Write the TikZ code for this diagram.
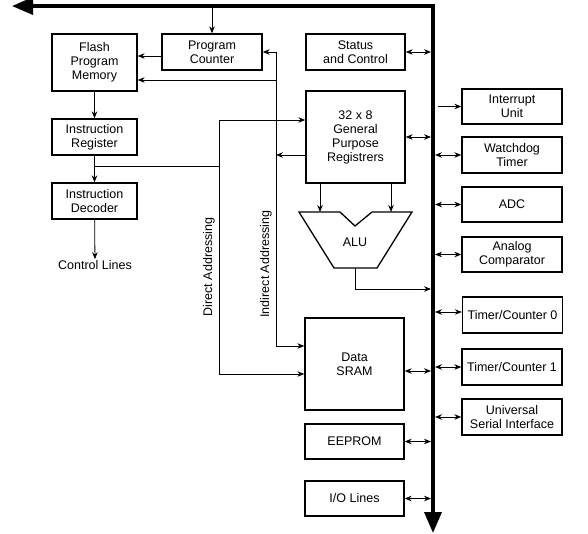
\documentclass[tikz,border=0pt]{standalone}
\usepackage{fontspec}
\setmainfont{Liberation Sans}
\usetikzlibrary{arrows.meta, calc}
\tikzset{
    box/.style={draw, rectangle, line width=1.3pt, minimum height=36pt, minimum width=100pt, align=center, inner sep=1pt, font=\fontsize{12.5}{14}\selectfont},
    lbl/.style={font=\fontsize{12.5}{14}\selectfont, inner sep=1pt},
    arr/.style={line width=0.8pt, -{Stealth[length=7pt, width=5.5pt]}},
    dbl/.style={line width=0.8pt, {Stealth[length=7pt, width=5.5pt]}-{Stealth[length=7pt, width=5.5pt]}},
    bus/.style={line width=3.5pt, line join=miter, {Triangle[length=21pt, width=17pt]}-{Triangle[length=21pt, width=17pt]}}
}

\begin{document}
\begin{tikzpicture}[x=1pt, y=-1pt]
    \useasboundingbox (0,0) rectangle (588,533);

    % left column
    \node[box, minimum width=85pt, minimum height=57pt] (flash) at (94.5,62.5) {Flash\\Program\\Memory};
    \node[box, minimum width=85pt] (ir) at (94.5,137) {Instruction\\Register};
    \node[box, minimum width=85pt] (dec) at (94.5,201) {Instruction\\Decoder};
    \node[lbl] (ctrl) at (95,265) {Control Lines};

    % middle column
    \node[box] (pc) at (212,52) {Program\\Counter};
    \node[box, minimum width=99pt] (status) at (355.5,52) {Status\\and Control};
    \node[box, minimum width=99pt, minimum height=92pt] (gpr) at (355.5,137) {32 x 8\\General\\Purpose\\Registrers};
    \node[box, minimum width=99pt, minimum height=92pt] (sram) at (354.5,364) {Data\\SRAM};
    \node[box, minimum width=99pt, minimum height=35pt] (eeprom) at (354.5,441.5) {EEPROM};
    \node[box, minimum width=99pt, minimum height=35pt] (io) at (354.5,498.5) {I/O Lines};

    % right column
    \node[box, minimum height=35pt] (intr) at (512,106.5) {Interrupt\\Unit};
    \node[box] (wdt) at (512,155) {Watchdog\\Timer};
    \node[box, minimum height=35pt] (adc) at (512,204.5) {ADC};
    \node[box, minimum height=35pt] (acmp) at (512,254.5) {Analog\\Comparator};
    \node[box] (tc0) at (512.5,315) {Timer/Counter 0};
    \node[box] (tc1) at (512,367) {Timer/Counter 1};
    \node[box] (usi) at (512,417) {Universal\\Serial Interface};

    % ALU
    \draw[line width=1.3pt, line join=miter] (299,212) -- (340,212) -- (355,226) -- (372,212) -- (412,212)
        -- (377,268) -- (334,268) -- cycle;
    \node[lbl] (alu) at (355,242) {ALU};
    \coordinate (aluA) at (320,212);
    \coordinate (aluB) at (391,212);
    \coordinate (aluOut) at (355,268);

    % bus
    \coordinate (busL) at (431,0);
    \coordinate (busR) at (435,0);
    \coordinate (busX) at (438,0);
    \coordinate (busT) at (0,8);
    \draw[bus] (433,533) -- (433,6) -- (12,6);

    % program flow
    \draw[arr] (pc.north |- busT) -- (pc.north);
    \draw[arr] ([yshift=-4pt]pc.west) -- ([yshift=-4pt]pc.west -| flash.east);
    \draw[arr] (flash) -- (ir);
    \draw[arr] (ir) -- (dec);
    \draw[arr] (dec) -- (ctrl);

    % direct addressing
    \coordinate (irtap) at (95,166);
    \coordinate (dTop) at (219,120);
    \coordinate (dBot) at (219,374);
    \draw[line width=0.8pt] (irtap) -- (irtap -| dTop);
    \draw[arr] (dBot) |- (dTop -| gpr.west);
    \draw[arr] (dBot) -- (dBot -| sram.west);
    \node[lbl, rotate=90] (dlbl) at (209,267) {Direct Addressing};

    % indirect addressing
    \coordinate (iTop) at (276,52);
    \coordinate (iFl) at (276,80);
    \coordinate (iBot) at (276,346);
    \draw[arr] (iBot) |- (iTop -| pc.east);
    \draw[arr] (iFl) -- (iFl -| flash.east);
    \draw[arr] (iBot) -- (iBot -| sram.west);
    \draw[arr] ([yshift=-18pt]gpr.west) -- ([yshift=-18pt]gpr.west -| iTop);
    \node[lbl, rotate=90] (ilbl) at (266,264) {Indirect Addressing};

    % ALU data paths
    \draw[arr] (gpr.south -| aluA) -- (aluA);
    \draw[arr] (gpr.south -| aluB) -- (aluB);
    \draw[arr] (aluOut) |- ($(busL)+(0,289)$);

    % bus taps
    \draw[dbl] (status.east) -- (status.east -| busL);
    \draw[dbl] (gpr.east) -- (gpr.east -| busL);
    \draw[dbl] ([yshift=-7pt]sram.east) -- ([yshift=-7pt]sram.east -| busL);
    \draw[dbl] (eeprom.east) -- (eeprom.east -| busL);
    \draw[dbl] (io.east) -- (io.east -| busL);
    \draw[arr] (intr.west -| busX) -- (intr.west);
    \draw[dbl] (wdt.west -| busR) -- (wdt.west);
    \draw[dbl] (adc.west -| busR) -- (adc.west);
    \draw[dbl] (acmp.west -| busR) -- (acmp.west);
    \draw[dbl] ([yshift=3pt]tc0.west -| busR) -- ([yshift=3pt]tc0.west);
    \draw[dbl] (tc1.west -| busR) -- (tc1.west);
    \draw[dbl] (usi.west -| busR) -- (usi.west);
\end{tikzpicture}
\end{document}
